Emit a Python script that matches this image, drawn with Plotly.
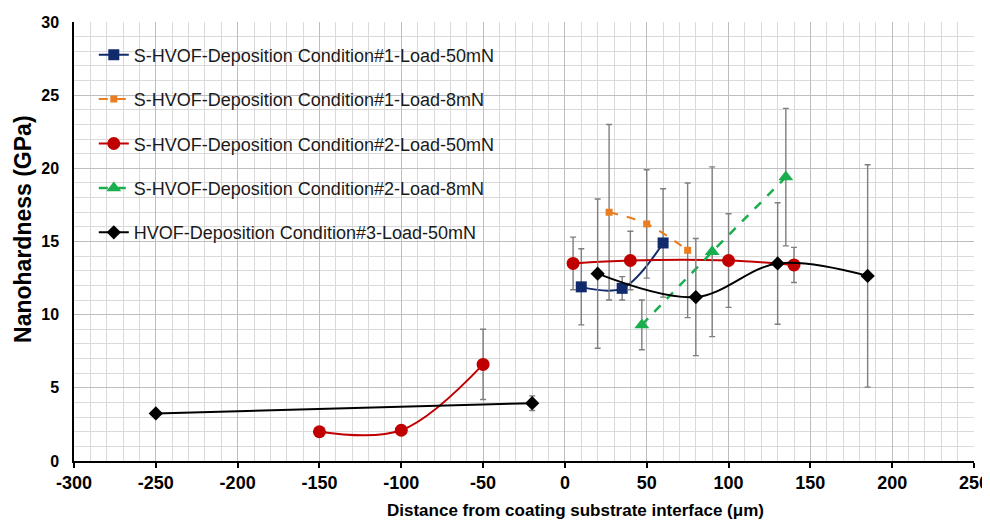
import plotly.graph_objects as go

# ---------------- data ----------------
# S-HVOF-Deposition Condition#1-Load-50mN
c1_50_x = [10, 35, 60]
c1_50_y = [11.9, 11.8, 14.9]
c1_50_err = [2.6, 0.8, 3.7]

# S-HVOF-Deposition Condition#1-Load-8mN
c1_8_x = [27, 50, 75]
c1_8_y = [17.0, 16.2, 14.4]
c1_8_err = [6.0, 3.7, 4.6]

# S-HVOF-Deposition Condition#2-Load-50mN (gap between the two profiles)
c2_50_x = [-150, -100, -50, None, 5, 40, 100, 140]
c2_50_y = [2.0, 2.1, 6.6, None, 13.5, 13.7, 13.7, 13.4]
c2_50_err = [0, 0, 2.4, None, 1.8, 2.0, 3.2, 1.2]

# S-HVOF-Deposition Condition#2-Load-8mN
c2_8_x = [47, 90, 135]
c2_8_y = [9.3, 14.3, 19.4]
c2_8_err = [1.7, 5.8, 4.7]

# HVOF-Deposition Condition#3-Load-50mN
c3_50_x = [-250, -20, None, 20, 80, 130, 185]
c3_50_y = [3.25, 3.95, None, 12.8, 11.2, 13.5, 12.65]
c3_50_err = [0, 0.5, None, 5.1, 4.0, 4.15, 7.6]

names = [
    "S-HVOF-Deposition Condition#1-Load-50mN",
    "S-HVOF-Deposition Condition#1-Load-8mN",
    "S-HVOF-Deposition Condition#2-Load-50mN",
    "S-HVOF-Deposition Condition#2-Load-8mN",
    "HVOF-Deposition Condition#3-Load-50mN",
]

x_ticks = [-300, -250, -200, -150, -100, -50, 0, 50, 100, 150, 200, 250]
y_ticks = [0, 5, 10, 15, 20, 25, 30]

x_title = "Distance from coating substrate interface (μm)"
y_title = "Nanohardness (GPa)"

# ---------------- styles ----------------
ERR = dict(type="data", visible=True, color="#7f7f7f", thickness=1.4, width=3)

series = [
    (c1_50_x, c1_50_y, c1_50_err, dict(color="#102a6b", width=2, shape="spline"),
     dict(symbol="square", size=11, color="#102a6b")),
    (c1_8_x, c1_8_y, c1_8_err, dict(color="#ea7d20", width=2, dash="dash", shape="spline"),
     dict(symbol="square", size=7, color="#ea7d20")),
    (c2_50_x, c2_50_y, c2_50_err, dict(color="#c00000", width=2, shape="spline"),
     dict(symbol="circle", size=13, color="#c00000")),
    (c2_8_x, c2_8_y, c2_8_err, dict(color="#1aae4e", width=2.5, dash="dash"),
     dict(symbol="triangle-up", size=13, color="#1aae4e")),
    (c3_50_x, c3_50_y, c3_50_err, dict(color="#000000", width=2, shape="spline"),
     dict(symbol="diamond", size=11, color="#000000")),
]

fig = go.Figure()
for i, (xs, ys, es, ln, mk) in enumerate(series):
    fig.add_trace(go.Scatter(
        x=xs, y=ys, name=names[i], mode="lines+markers",
        line=ln, marker=mk, connectgaps=False,
        error_y=dict(array=es, **ERR),
        legendgroup=f"g{i}",
    ))

FONT = "Arial, Liberation Sans, sans-serif"

# the page body adds an 8px margin, so the figure is 8px smaller on each axis
fig.update_layout(
    width=982, height=515,
    margin=dict(l=66, r=16, t=14, b=62, autoexpand=False),
    paper_bgcolor="white", plot_bgcolor="white",
    font=dict(family=FONT, color="#000000"),
    showlegend=True,
    legend=dict(
        x=0.022, y=0.967, xanchor="left", yanchor="top",
        bgcolor="rgba(0,0,0,0)", borderwidth=0,
        font=dict(family=FONT, size=18, color="#1a1a1a"),
        tracegroupgap=18, itemwidth=30,
    ),
    xaxis=dict(
        range=[-300, 250], tickvals=x_ticks, ticktext=[str(v) for v in x_ticks],
        showgrid=True, gridcolor="#bdbdbd", gridwidth=1,
        minor=dict(dtick=10, tick0=0, showgrid=True, gridcolor="#dadada", gridwidth=1, ticks=""),
        showline=True, linecolor="#000000", linewidth=1.5,
        ticks="outside", ticklen=5, tickcolor="#000000", tickwidth=1.5,
        tickfont=dict(family=FONT, size=18, weight="bold", color="#000000"),
        zeroline=False, automargin=False,
    ),
    yaxis=dict(
        range=[0, 30], tickvals=y_ticks, ticktext=[str(v) for v in y_ticks],
        showgrid=True, gridcolor="#bdbdbd", gridwidth=1,
        minor=dict(dtick=1, tick0=0, showgrid=True, gridcolor="#dadada", gridwidth=1, ticks=""),
        showline=True, linecolor="#000000", linewidth=1.5,
        ticks="", ticklabelstandoff=10,
        tickfont=dict(family=FONT, size=16, weight="bold", color="#000000"),
        zeroline=False, automargin=False,
    ),
    shapes=[dict(type="rect", xref="paper", yref="paper",
                 x0=0.0067, x1=0.49, y0=0.467, y1=0.9886,
                 fillcolor="white", line=dict(width=0), layer="between")],
    annotations=[
        dict(text=x_title, xref="paper", yref="paper", x=0.557, y=-0.087,
             xanchor="center", yanchor="top", showarrow=False,
             font=dict(family=FONT, size=17, weight="bold", color="#000000")),
        dict(text=y_title, xref="paper", yref="paper", x=-0.0567, y=0.5285,
             xanchor="center", yanchor="middle", showarrow=False, textangle=-90,
             font=dict(family=FONT, size=23, weight="bold", color="#000000")),
    ],
)

fig.write_html("out.html")
